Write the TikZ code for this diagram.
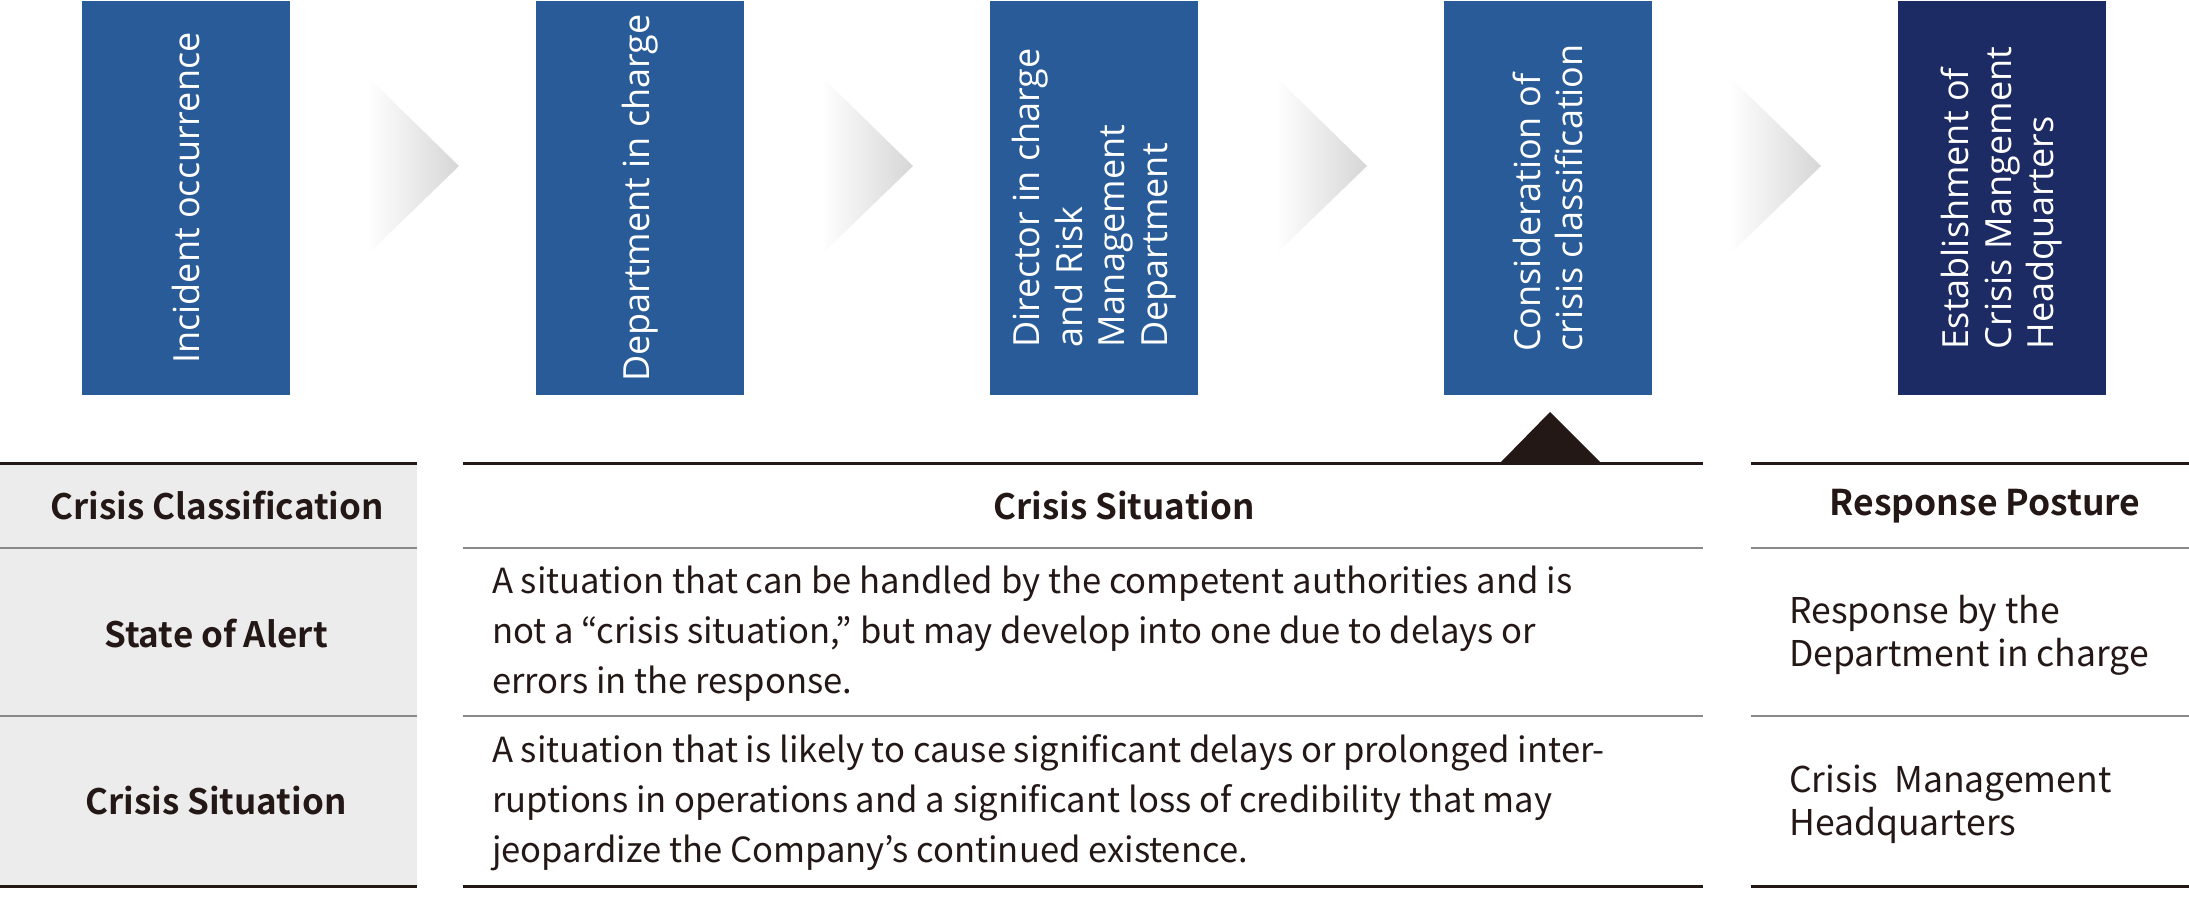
\documentclass[tikz,border=0pt]{standalone}
\usepackage{fontspec}
\newfontfamily\stagefont{Open Sans}
\newfontfamily\tablefont[BoldFont={Noto Sans CJK JP Bold}]{Noto Sans CJK JP}
\definecolor{stageblue}{RGB}{40,91,152}
\definecolor{stagenavy}{RGB}{28,43,100}
\definecolor{ink}{RGB}{35,24,21}
\definecolor{rulegray}{RGB}{137,137,137}
\definecolor{cellgray}{RGB}{236,236,236}
\definecolor{chevgray}{RGB}{214,214,214}
\tikzset{
  stage/.style={rotate=90,align=left,text=white,inner sep=0pt,
    font=\stagefont\fontsize{36}{42.5}\selectfont},
  thickrule/.style={draw=ink,line width=3pt},
  thinrule/.style={draw=rulegray,line width=1.6pt},
  classtext/.style={text=ink,inner sep=0pt,font=\tablefont\bfseries\fontsize{35}{42}\selectfont},
  situtext/.style={text=ink,inner sep=0pt,align=left,anchor=west,
    font=\tablefont\fontsize{34.6}{50}\selectfont},
  posttext/.style={text=ink,inner sep=0pt,align=left,anchor=west,
    font=\tablefont\fontsize{35.5}{43}\selectfont}
}
\begin{document}
\begin{tikzpicture}[x=1pt,y=-1pt]
  \useasboundingbox (0,0) rectangle (2189,900);
  % flow of stages
  \fill[stageblue] (82,1) rectangle (290,395);
  \fill[stageblue] (536,1) rectangle (744,395);
  \fill[stageblue] (990,1) rectangle (1198,395);
  \fill[stageblue] (1444,1) rectangle (1652,395);
  \fill[stagenavy] (1898,1) rectangle (2106,395);
  \node[stage] (incident) at (186,198) {Incident occurrence};
  \node[stage] (dept) at (640,198) {Department in charge};
  \node[stage] (director) at (1094,198) {Director in charge\\and Risk\\Management\\Department};
  \node[stage] (consider) at (1548,198) {Consideration of\\crisis classification};
  \node[stage] (hq) at (2002,198) {Establishment of\\Crisis Mangement\\Headquarters};
  \shade[left color=white,right color=chevgray] (367,76) -- (459,166) -- (367,255) -- cycle;
  \shade[left color=white,right color=chevgray] (821,76) -- (913,166) -- (821,255) -- cycle;
  \shade[left color=white,right color=chevgray] (1275,76) -- (1367,166) -- (1275,255) -- cycle;
  \shade[left color=white,right color=chevgray] (1729,76) -- (1821,166) -- (1729,255) -- cycle;
  \fill[ink] (1500,463) -- (1550,412) -- (1601,463) -- cycle;
  % table
  \fill[cellgray] (0,463) rectangle (417,886);
  \draw[thinrule] (0,548) -- (417,548) (463,548) -- (1703,548) (1751,548) -- (2189,548);
  \draw[thinrule] (0,716) -- (417,716) (463,716) -- (1703,716) (1751,716) -- (2189,716);
  \draw[thickrule] (0,463) -- (417,463) (463,463) -- (1703,463) (1751,463) -- (2189,463);
  \draw[thickrule] (0,886) -- (417,886) (463,886) -- (1703,886) (1751,886) -- (2189,886);
  \node[classtext] (classhead) at (217,506) {Crisis Classification};
  \node[classtext] (situhead) at (1124,506) {Crisis Situation};
  \node[classtext,font=\tablefont\bfseries\fontsize{35.5}{42}\selectfont] (posthead) at (1985,506) {Response Posture};
  \node[classtext] (alert) at (216,634) {State of Alert};
  \node[classtext] (crisis) at (216,801) {Crisis Situation};
  \node[situtext] (alerttext) at (492,634) {A situation that can be handled by the competent authorities and is\\not a “crisis situation,” but may develop into one due to delays or\\errors in the response.};
  \node[situtext] (crisistext) at (492,803) {A situation that is likely to cause significant delays or prolonged inter-\\ruptions in operations and a significant loss of credibility that may\\jeopardize the Company’s continued existence.};
  \node[posttext] (alertpost) at (1789,635) {Response by the\\Department in charge};
  \node[posttext] (crisispost) at (1789,804) {Crisis\ \ Management\\Headquarters};
\end{tikzpicture}
\end{document}
